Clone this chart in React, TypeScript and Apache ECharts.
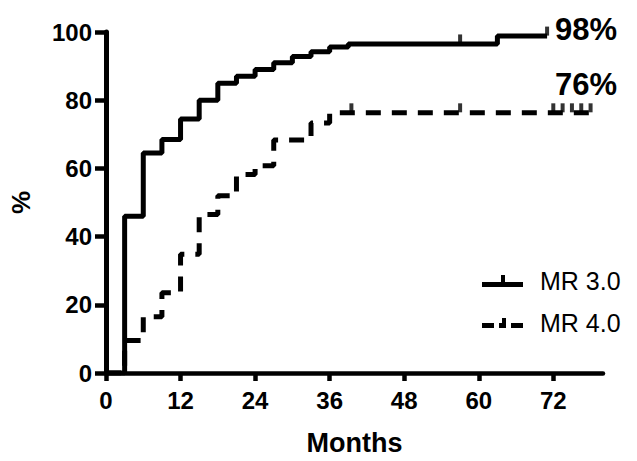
import React, { useEffect, useRef } from "react";
import * as echarts from "echarts";

// Kaplan-Meier steps: [month, percent]
const mr3Months = [0, 3, 6, 9, 12, 15, 18, 21, 24, 27, 30, 33, 36, 39, 63, 71];
const mr3Values = [0, 46, 64.5, 68.5, 74.5, 80, 85, 87, 89, 91, 92.8, 94.2, 95.6, 96.5, 98.8, 98.8];
const mr4Months = [0, 3, 6, 9, 12, 15, 18, 21, 24, 27, 33, 36, 79];
const mr4Values = [0, 9.5, 16.5, 23.5, 34.8, 46.5, 52, 58.2, 60.8, 68.3, 73.3, 76.3, 76.3];
// censored observations
const mr3Censor = [[57, 96.5], [71, 98.8]];
const mr4Censor = [[39.5, 76.3], [57, 76.3], [72, 76.3], [73.5, 76.3], [75, 76.3], [76.5, 76.3], [78, 76.3]];
const xTicks = [0, 12, 24, 36, 48, 60, 72];
const seriesNames = ["MR 3.0", "MR 4.0"];
const endLabels = ["98%", "76%"];

const FONT = "'Liberation Sans', Arial, Helvetica, sans-serif";

export default function App() {
  const ref = useRef<HTMLDivElement>(null);
  useEffect(() => {
    if (!ref.current) return;
    const chart = echarts.init(ref.current, null, { renderer: "svg" });
    const solidIcon = "path://M0,8H41V13H0Z M19,1H23V8H19Z";
    const dashIcon = "path://M0,8H12V13H0Z M17,8H24V13H17Z M20,3H24V8H20Z M29,8H41V13H29Z";
    chart.setOption({
      animation: false,
      backgroundColor: "#ffffff",
      textStyle: { fontFamily: FONT },
      grid: { left: 92.5, right: 34, top: 32, bottom: 88, containLabel: false },
      legend: {
        orient: "vertical",
        left: 477,
        top: 262,
        itemWidth: 41,
        itemHeight: 13,
        itemGap: 14,
        data: [
          { name: seriesNames[0], icon: solidIcon },
          { name: seriesNames[1], icon: dashIcon },
        ],
        textStyle: {
          fontFamily: FONT,
          fontSize: 25,
          color: "#000",
          lineHeight: 28,
          padding: [0, 0, 0, 12],
        },
      },
      xAxis: {
        type: "value",
        min: 0,
        max: 80,
        name: "Months",
        nameLocation: "middle",
        nameGap: 56,
        nameTextStyle: { fontFamily: FONT, fontSize: 27, fontWeight: "bold", color: "#000" },
        axisLine: { show: true, lineStyle: { color: "#000", width: 4.5 } },
        axisTick: { show: true, length: 8, lineStyle: { color: "#000", width: 4.5 }, customValues: xTicks },
        axisLabel: {
          customValues: xTicks,
          margin: 15,
          fontFamily: FONT,
          fontSize: 24,
          fontWeight: "bold",
          color: "#000",
        },
        splitLine: { show: false },
      },
      yAxis: {
        type: "value",
        min: 0,
        max: 100,
        interval: 20,
        name: "%",
        nameLocation: "middle",
        nameRotate: 90,
        nameGap: 72,
        nameTextStyle: { fontFamily: FONT, fontSize: 26, fontWeight: "bold", color: "#000" },
        axisLine: { show: true, lineStyle: { color: "#000", width: 5 } },
        axisTick: { show: true, length: 11, lineStyle: { color: "#000", width: 4.5 } },
        axisLabel: { margin: 14, fontFamily: FONT, fontSize: 24, fontWeight: "bold", color: "#000" },
        splitLine: { show: false },
      },
      series: [
        {
          name: seriesNames[1],
          type: "line",
          step: "end",
          symbol: "none",
          data: mr4Months.map((m, i) => [m, mr4Values[i]]),
          itemStyle: { color: "#000" },
          lineStyle: { color: "#000", width: 5, type: [15, 11] },
          z: 2,
        },
        {
          name: seriesNames[0],
          type: "line",
          step: "end",
          symbol: "none",
          data: mr3Months.map((m, i) => [m, mr3Values[i]]),
          itemStyle: { color: "#000" },
          lineStyle: { color: "#000", width: 5 },
          z: 3,
        },
        {
          name: "MR 3.0 censored",
          type: "scatter",
          symbol: "rect",
          symbolSize: [4, 9],
          symbolOffset: [0, -5],
          itemStyle: { color: "#000" },
          data: mr3Censor,
          z: 4,
        },
        {
          name: "MR 4.0 censored",
          type: "scatter",
          symbol: "rect",
          symbolSize: [4, 9],
          symbolOffset: [0, -5],
          itemStyle: { color: "#000" },
          data: mr4Censor,
          z: 4,
        },
      ],
      graphic: [
        {
          type: "text",
          left: 555,
          top: 14,
          style: { text: endLabels[0], fontFamily: FONT, fontSize: 31, fontWeight: "bold", fill: "#000" },
        },
        {
          type: "text",
          left: 555,
          top: 69,
          style: { text: endLabels[1], fontFamily: FONT, fontSize: 31, fontWeight: "bold", fill: "#000" },
        },
      ],
    });
    return () => chart.dispose();
  }, []);
  return (
    <div
      ref={ref}
      style={{ position: "fixed", left: 0, top: 0, width: 637, height: 461 }}
    />
  );
}
